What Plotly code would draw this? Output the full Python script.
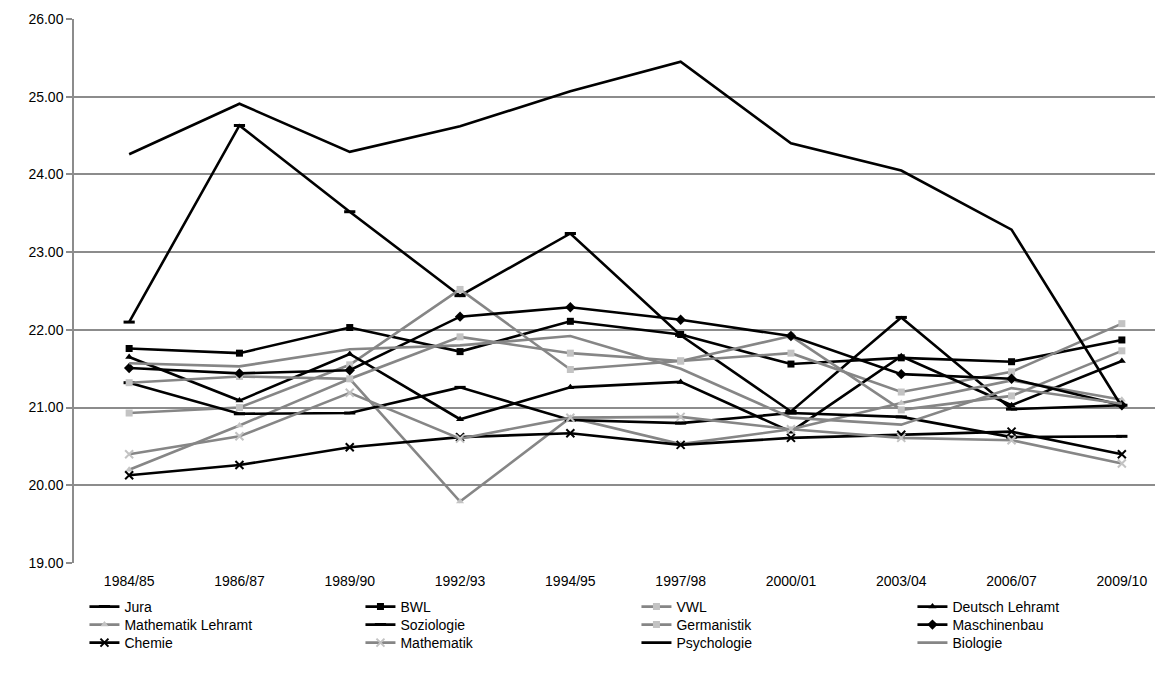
import plotly.graph_objects as go

years = ["1984/85", "1986/87", "1989/90", "1992/93", "1994/95",
         "1997/98", "2000/01", "2003/04", "2006/07", "2009/10"]

jura = [22.10, 24.63, 23.52, 22.44, 23.24, 21.93, 20.95, 22.16, 20.98, 21.03]
bwl = [21.76, 21.70, 22.03, 21.72, 22.11, 21.94, 21.56, 21.64, 21.59, 21.87]
vwl = [20.93, 21.00, 21.55, 22.52, 21.49, 21.60, 21.70, 21.20, 21.46, 22.08]
deutsch_lehramt = [21.65, 21.09, 21.69, 20.85, 21.26, 21.33, 20.69, 21.66, 21.03, 21.60]
mathe_lehramt = [20.20, 20.77, 21.37, 19.79, 20.87, 20.53, 20.72, 21.06, 21.35, 21.10]
soziologie = [21.32, 20.92, 20.93, 21.26, 20.84, 20.80, 20.93, 20.88, 20.62, 20.63]
germanistik = [21.32, 21.40, 21.37, 21.91, 21.70, 21.60, 21.92, 20.97, 21.15, 21.73]
maschinenbau = [21.51, 21.44, 21.48, 22.17, 22.29, 22.13, 21.92, 21.43, 21.37, 21.03]
chemie = [20.13, 20.26, 20.49, 20.62, 20.67, 20.52, 20.61, 20.65, 20.69, 20.40]
mathematik = [20.40, 20.63, 21.19, 20.60, 20.87, 20.88, 20.72, 20.61, 20.58, 20.28]
psychologie = [24.26, 24.91, 24.29, 24.62, 25.07, 25.45, 24.40, 24.05, 23.29, 21.01]
biologie = [21.57, 21.53, 21.75, 21.80, 21.92, 21.50, 20.87, 20.78, 21.25, 21.05]

y_ticks = [19, 20, 21, 22, 23, 24, 25, 26]

BLACK = "#000000"
GRAY = "#868686"
LIGHT = "#c3c3c3"

# (name, values, line colour, marker symbol, marker colour, marker size, legend row)
series = [
    ("Jura", jura, BLACK, "line-ew-open", BLACK, 8, "legend"),
    ("BWL", bwl, BLACK, "square", BLACK, 7, "legend"),
    ("VWL", vwl, GRAY, "square", LIGHT, 7, "legend"),
    ("Deutsch Lehramt", deutsch_lehramt, BLACK, "triangle-up", BLACK, 7, "legend"),
    ("Mathematik Lehramt", mathe_lehramt, GRAY, "triangle-up", LIGHT, 7, "legend2"),
    ("Soziologie", soziologie, BLACK, "line-ew-open", BLACK, 8, "legend2"),
    ("Germanistik", germanistik, GRAY, "square", LIGHT, 7, "legend2"),
    ("Maschinenbau", maschinenbau, BLACK, "diamond", BLACK, 8, "legend2"),
    ("Chemie", chemie, BLACK, "x-thin-open", BLACK, 8, "legend3"),
    ("Mathematik", mathematik, GRAY, "x-thin-open", LIGHT, 8, "legend3"),
    ("Psychologie", psychologie, BLACK, None, None, 0, "legend3"),
    ("Biologie", biologie, GRAY, None, None, 0, "legend3"),
]

fig = go.Figure()
for name, vals, lc, sym, mc, ms, lg in series:
    if sym is None:
        fig.add_trace(go.Scatter(x=years, y=vals, name=name, mode="lines", legend=lg,
                                 line=dict(color=lc, width=2.6)))
    else:
        if sym.endswith("-open"):
            marker = dict(symbol=sym, size=ms, color=mc,
                          line=dict(color=mc, width=3 if sym.startswith("line") else 2))
        else:
            marker = dict(symbol=sym, size=ms, color=mc, line=dict(width=0))
        fig.add_trace(go.Scatter(x=years, y=vals, name=name, mode="lines+markers",
                                 legend=lg, line=dict(color=lc, width=2.6), marker=marker))

FONT = "Liberation Sans, Arial, sans-serif"


def legend_row(ypos):
    return dict(orientation="h", x=-0.0005, y=ypos, xanchor="left", yanchor="middle",
                entrywidth=231, entrywidthmode="pixels", borderwidth=11,
                bordercolor="rgba(0,0,0,0)", bgcolor="rgba(0,0,0,0)",
                font=dict(family=FONT, size=14, color="#000000"), itemwidth=30)


# the page body adds an 8px offset, so the figure is 8px smaller than the window
fig.update_layout(
    width=1155, height=666,
    margin=dict(l=66, r=0, t=11, b=111, autoexpand=False),
    paper_bgcolor="white", plot_bgcolor="white",
    font=dict(family=FONT, size=14, color="#000000"),
    showlegend=True,
    legend=legend_row(-0.0809),
    legend2=legend_row(-0.1140),
    legend3=legend_row(-0.1471),
)
fig.update_xaxes(type="category", range=[-0.5, 9.373], showgrid=False,
                 showline=False, ticks="", tickfont=dict(size=14),
                 ticklabelstandoff=8, automargin=False)
fig.update_yaxes(range=[19, 26], tickvals=y_ticks, ticktext=[f"{v:.2f}" for v in y_ticks],
                 showgrid=True, gridcolor="#8c8c8c", gridwidth=1.5,
                 showline=True, linecolor="#8c8c8c", linewidth=1.5,
                 ticks="outside", ticklen=6, tickcolor="#8c8c8c", tickwidth=1.5,
                 zeroline=False, tickfont=dict(size=14), automargin=False)

fig.write_html("out.html")
